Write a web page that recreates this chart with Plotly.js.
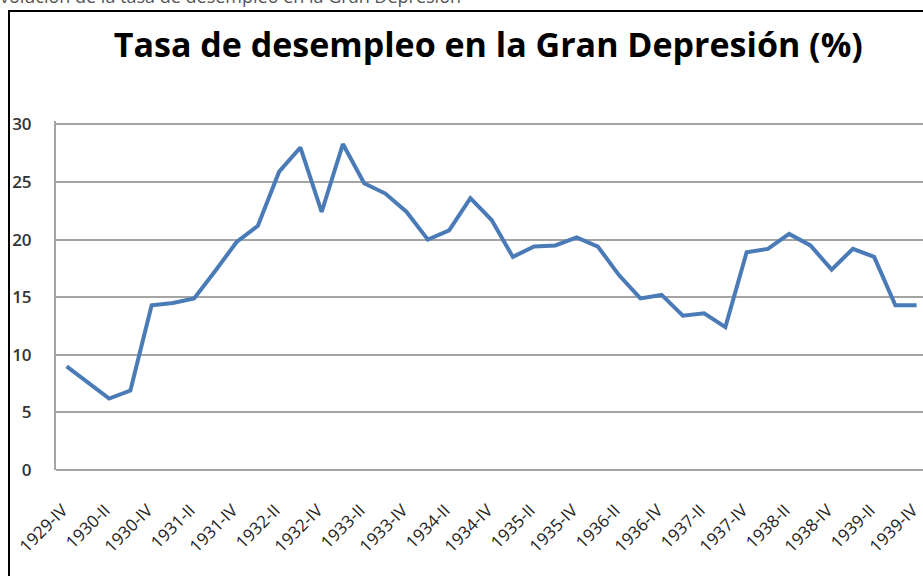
<!DOCTYPE html>
<html>
<head>
<meta charset="utf-8">
<script src="https://cdn.plot.ly/plotly-3.0.1.min.js"></script>
<style>
  html, body { margin: 0; padding: 0; background: #fff; overflow: hidden; }
  #wrap { position: relative; width: 923px; height: 576px; overflow: hidden; }
  #chart { position: absolute; left: 0; top: 0; width: 923px; height: 576px; }
  #frame { position: absolute; left: 8px; top: 10px; width: 930px; height: 580px;
           border-left: 2px solid #000; border-top: 2px solid #000; pointer-events: none; }
  #cut { position: absolute; right: 462px; top: -16px; white-space: nowrap;
         font-family: "Open Sans", sans-serif; font-size: 18px; color: #555; }
</style>
</head>
<body>
<div id="wrap">
  <div id="chart"></div>
  <div id="frame"></div>
  <div id="cut">Evolución de la tasa de desempleo en la Gran Depresión</div>
</div>
<script>
// Quarters (categories)
var quarters = [
  "1929-IV",
  "1930-I", "1930-II", "1930-III", "1930-IV",
  "1931-I", "1931-II", "1931-III", "1931-IV",
  "1932-I", "1932-II", "1932-III", "1932-IV",
  "1933-I", "1933-II", "1933-III", "1933-IV",
  "1934-I", "1934-II", "1934-III", "1934-IV",
  "1935-I", "1935-II", "1935-III", "1935-IV",
  "1936-I", "1936-II", "1936-III", "1936-IV",
  "1937-I", "1937-II", "1937-III", "1937-IV",
  "1938-I", "1938-II", "1938-III", "1938-IV",
  "1939-I", "1939-II", "1939-III", "1939-IV"
];

// Unemployment rate (%)
var unemployment = [
  9.0,
  7.6, 6.2, 6.9, 14.3,
  14.5, 14.9, 17.3, 19.8,
  21.2, 25.9, 28.0, 22.4,
  28.3, 24.9, 24.0, 22.4,
  20.0, 20.8, 23.6, 21.7,
  18.5, 19.4, 19.5, 20.2,
  19.4, 16.9, 14.9, 15.2,
  13.4, 13.6, 12.4, 18.9,
  19.2, 20.5, 19.5, 17.4,
  19.2, 18.5, 14.3, 14.3
];

// Axis tick labels shown (every other quarter)
var tickLabels = [
  "1929-IV", "1930-II", "1930-IV", "1931-II", "1931-IV", "1932-II", "1932-IV",
  "1933-II", "1933-IV", "1934-II", "1934-IV", "1935-II", "1935-IV", "1936-II",
  "1936-IV", "1937-II", "1937-IV", "1938-II", "1938-IV", "1939-II", "1939-IV"
];
var yTicks = [0, 5, 10, 15, 20, 25, 30];

var titleText = "Tasa de desempleo en la Gran Depresión (%)";

var trace = {
  type: "scatter",
  mode: "lines",
  x: quarters,
  y: unemployment,
  line: { color: "#4a7bb7", width: 4 },
  hoverinfo: "x+y"
};

var layout = {
  width: 923,
  height: 576,
  margin: { l: 56, r: 0, t: 121, b: 106 },
  paper_bgcolor: "rgba(0,0,0,0)",
  plot_bgcolor: "#fff",
  showlegend: false,
  title: {
    text: titleText,
    font: { family: "Open Sans", size: 34, color: "#000", weight: 700 },
    x: 0.529, xref: "container", xanchor: "center",
    y: 0.922, yref: "container", yanchor: "middle"
  },
  xaxis: {
    type: "category",
    categoryorder: "array",
    categoryarray: quarters,
    range: [-0.5, 40.3],
    tickmode: "array",
    tickvals: tickLabels,
    ticktext: tickLabels,
    tickangle: -45,
    tickfont: { family: "Open Sans", size: 17, color: "#222" },
    ticklabelstandoff: 26,
    ticklabelshift: -4,
    showgrid: false,
    zeroline: false,
    showline: false,
    ticks: ""
  },
  yaxis: {
    range: [0, 30.3],
    tickmode: "array",
    tickvals: yTicks,
    ticktext: yTicks.map(String),
    tickfont: { family: "Open Sans", size: 17, color: "#333", weight: 600 },
    ticklabelstandoff: 19,
    showgrid: true,
    gridcolor: "#a4a4a4",
    gridwidth: 2,
    zeroline: true,
    zerolinecolor: "#a4a4a4",
    zerolinewidth: 2,
    showline: true,
    linecolor: "#a4a4a4",
    linewidth: 2,
    ticks: ""
  }
};

Plotly.newPlot("chart", [trace], layout, { displayModeBar: false, staticPlot: true });
</script>
</body>
</html>
